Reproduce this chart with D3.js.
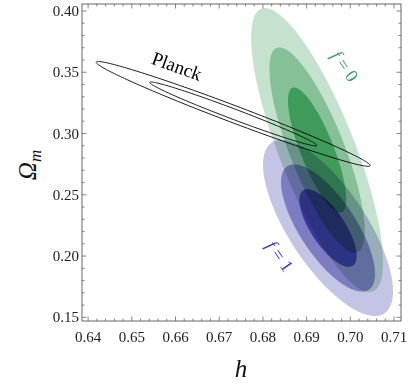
<!DOCTYPE html>
<html lang="en">
	<head>
		<meta charset="utf-8">
		<title>h vs Omega_m contours</title>
		<script src="https://cdn.jsdelivr.net/npm/d3@7"></script>
		<style>
			body { margin: 0; background: #fff; }
			.tick-label { font-family: "Liberation Serif", serif; font-size: 15px; fill: #222; }
			.axis-title { font-family: "Liberation Serif", serif; font-style: italic; fill: #111; }
		</style>
	</head>
	<body>
		<script>
			//Width and height
			var w = 415;
			var h = 389;
			var plotLeft = 82, plotRight = 401, plotTop = 4, plotBottom = 321;

			// axis ticks
			var hTicks = [0.64, 0.65, 0.66, 0.67, 0.68, 0.69, 0.70, 0.71];
			var omTicks = [0.15, 0.20, 0.25, 0.30, 0.35, 0.40];

			// contour levels (sqrt of chi2 for 68%, 95%, 99.7%)
			var levels = [1.515, 2.486, 3.439];

			// each sample: centre, sigma h, sigma Omega_m, correlation
			var names = ["Planck", "f = 0", "f = 1"];
			var centreH = [0.6732, 0.6924, 0.6949];
			var centreOm = [0.316, 0.2865, 0.2229];
			var sigmaH = [0.01261, 0.00439, 0.004325];
			var sigmaOm = [0.0172, 0.0337, 0.02088];
			var rho = [-0.985, -0.79, -0.72];

			// fills by level: inner, middle, outer
			var greenFills = ["#3e9b5a", "#85c096", "#c5e2cf"];
			var blueFills = ["#3a38a0", "#7d7cc2", "#c4c4e4"];

			var x = d3.scaleLinear().domain([0.6386, 0.7116]).range([plotLeft, plotRight]);
			var y = d3.scaleLinear().domain([0.147, 0.4057]).range([plotBottom, plotTop]);

			var svg = d3.select("body")
				.append("svg")
				.attr("width", w)
				.attr("height", h);

			svg.append("clipPath").attr("id", "plot")
				.append("rect")
				.attr("x", plotLeft).attr("y", plotTop)
				.attr("width", plotRight - plotLeft).attr("height", plotBottom - plotTop);

			//points of one contour ellipse, in data units
			function ellipse(i, k) {
				var pts = [];
				var s = Math.sqrt(1 - rho[i] * rho[i]);
				for (var j = 0; j < 240; j++) {
					var t = j / 240 * 2 * Math.PI;
					pts.push([
						centreH[i] + k * sigmaH[i] * Math.cos(t),
						centreOm[i] + k * sigmaOm[i] * (rho[i] * Math.cos(t) + s * Math.sin(t))
					]);
				}
				return pts;
			}

			var line = d3.line()
				.x(function (d) { return x(d[0]); })
				.y(function (d) { return y(d[1]); })
				.curve(d3.curveLinearClosed);

			var plot = svg.append("g").attr("clip-path", "url(#plot)");

			//f = 0 (green), outer first
			plot.append("g").selectAll("path")
				.data([2, 1, 0])
				.enter()
				.append("path")
				.attr("d", function (l) { return line(ellipse(1, levels[l])); })
				.attr("fill", function (l) { return greenFills[l]; });

			//f = 1 (blue), blended on top
			plot.append("g").style("mix-blend-mode", "multiply")
				.selectAll("path")
				.data([2, 1, 0])
				.enter()
				.append("path")
				.attr("d", function (l) { return line(ellipse(2, levels[l])); })
				.attr("fill", function (l) { return blueFills[l]; });

			//Planck outlines
			plot.append("g").selectAll("path")
				.data([0, 1])
				.enter()
				.append("path")
				.attr("d", function (l) { return line(ellipse(0, levels[l])); })
				.attr("fill", "none")
				.attr("stroke", "#000")
				.attr("stroke-width", 0.9);

			//frame with inward ticks on all sides
			var frameColor = "#666";
			svg.append("rect")
				.attr("x", plotLeft).attr("y", plotTop)
				.attr("width", plotRight - plotLeft).attr("height", plotBottom - plotTop)
				.attr("fill", "none")
				.attr("stroke", frameColor)
				.attr("stroke-width", 1);

			var hMinor = d3.range(320, 356, 1).map(function (v) { return v / 500; });
			var omMinor = d3.range(15, 41, 1).map(function (v) { return v / 100; });

			var ticks = svg.append("g").attr("stroke", frameColor).attr("stroke-width", 0.8);
			hMinor.forEach(function (v) {
				var major = hTicks.some(function (t) { return Math.abs(t - v) < 1e-6; });
				var len = major ? 4.5 : 2.5;
				ticks.append("line").attr("x1", x(v)).attr("x2", x(v)).attr("y1", plotBottom).attr("y2", plotBottom - len);
				ticks.append("line").attr("x1", x(v)).attr("x2", x(v)).attr("y1", plotTop).attr("y2", plotTop + len);
			});
			omMinor.forEach(function (v) {
				var major = omTicks.some(function (t) { return Math.abs(t - v) < 1e-6; });
				var len = major ? 4.5 : 2.5;
				ticks.append("line").attr("y1", y(v)).attr("y2", y(v)).attr("x1", plotLeft).attr("x2", plotLeft + len);
				ticks.append("line").attr("y1", y(v)).attr("y2", y(v)).attr("x1", plotRight).attr("x2", plotRight - len);
			});

			svg.append("g").selectAll("text")
				.data(hTicks)
				.enter()
				.append("text")
				.attr("class", "tick-label")
				.attr("x", function (d) { return x(d); })
				.attr("y", 342)
				.attr("text-anchor", "middle")
				.text(function (d) { return d.toFixed(2); });

			svg.append("g").selectAll("text")
				.data(omTicks)
				.enter()
				.append("text")
				.attr("class", "tick-label")
				.attr("x", 79)
				.attr("y", function (d) { return y(d) + 5; })
				.attr("text-anchor", "end")
				.text(function (d) { return d.toFixed(2); });

			//axis titles
			svg.append("text")
				.attr("class", "axis-title")
				.attr("x", 241)
				.attr("y", 377)
				.attr("text-anchor", "middle")
				.style("font-size", "25px")
				.text("h");

			var yt = svg.append("text")
				.attr("class", "axis-title")
				.attr("transform", "translate(36,165) rotate(-90)")
				.attr("text-anchor", "middle")
				.style("font-size", "25px");
			yt.append("tspan").text("Ω");
			yt.append("tspan").attr("dy", 5).style("font-size", "17px").text("m");

			//curve labels
			svg.append("text")
				.attr("transform", "translate(177,66) rotate(20)")
				.attr("text-anchor", "middle")
				.attr("dy", "0.35em")
				.style("font-family", "Liberation Serif, serif")
				.style("font-size", "19px")
				.attr("fill", "#000")
				.text(names[0]);

			var labelPos = [[345, 66], [280, 256]];
			var labelCol = ["#3f9f62", "#3c3cc8"];
			[1, 2].forEach(function (i, j) {
				var t = svg.append("text")
					.attr("transform", "translate(" + labelPos[j][0] + "," + labelPos[j][1] + ") rotate(55)")
					.attr("text-anchor", "middle")
					.attr("dy", "0.35em")
					.style("font-family", "Liberation Serif, serif")
					.style("font-size", "18px")
					.attr("fill", labelCol[j]);
				t.append("tspan").style("font-style", "italic").text("f");
				t.append("tspan").text(names[i].slice(1));
			});
		</script>
	</body>
</html>
